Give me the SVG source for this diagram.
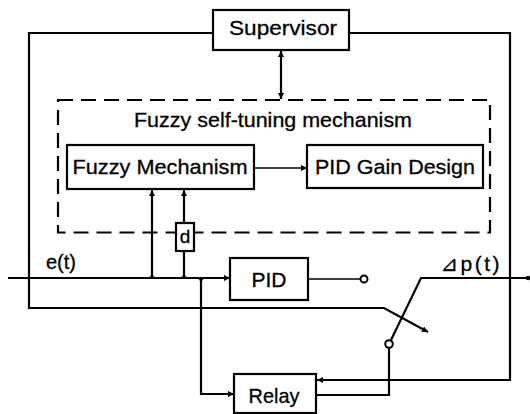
<svg xmlns="http://www.w3.org/2000/svg" width="530" height="414" viewBox="0 0 530 414">
<defs>
<style>
.box{fill:#fff;stroke:#000;stroke-width:2.2}
.ln{fill:none;stroke:#000;stroke-width:2.2}
.thin{fill:none;stroke:#000;stroke-width:1.7}
.dash{fill:none;stroke:#000;stroke-width:2.2;stroke-dasharray:15 8}
.t{font-family:"Liberation Sans",Arial,sans-serif;font-size:21px;fill:#000;text-anchor:middle;stroke:#000;stroke-width:0.3}
.sw{fill:#fff;stroke:#000;stroke-width:2}
.jn{fill:#000}
</style>
<marker id="ar" viewBox="0 0 10 10" refX="10" refY="5" markerWidth="7" markerHeight="6" markerUnits="userSpaceOnUse" orient="auto">
<path d="M0,0 L10,5 L0,10 z" fill="#000"/>
</marker>
<marker id="as" viewBox="0 0 10 10" refX="0" refY="5" markerWidth="7" markerHeight="6" markerUnits="userSpaceOnUse" orient="auto">
<path d="M10,0 L0,5 L10,10 z" fill="#000"/>
</marker>
</defs>
<rect width="530" height="414" fill="#fff"/>

<g id="connectors">
<path class="ln" d="M213,33 H29 V308 H384 L428,332" marker-end="url(#ar)"/>
<path class="ln" d="M349,33 H510 V380 H317" marker-end="url(#ar)"/>
<path class="ln" d="M281,51 V99" marker-start="url(#as)" marker-end="url(#ar)"/>
<path class="thin" d="M254,168 H307" marker-end="url(#ar)"/>
<path class="ln" d="M8,278 H230" marker-end="url(#ar)"/>
<path class="ln" d="M152,278 V190" marker-end="url(#ar)"/>
<path class="ln" d="M184,278 V251"/>
<path class="ln" d="M184,223 V190" marker-end="url(#ar)"/>
<path class="ln" d="M201,278 V394 H234" marker-end="url(#ar)"/>
<path class="thin" d="M308,279 H360"/>
<path class="ln" d="M530,278 H421 L391,340"/>
<path class="ln" d="M316,395 H389 V348"/>
<polygon class="jn" points="148.5,279 155.5,279 152,273.5"/>
<polygon class="jn" points="180.5,279 187.5,279 184,273.5"/>
<polygon class="jn" points="197.5,277 204.5,277 201,282.5"/>
<circle class="jn" cx="528" cy="278" r="2.2"/>
<circle class="sw" cx="364" cy="279" r="3.5"/>
<circle class="sw" cx="389" cy="344" r="3.8"/>
</g>

<g id="fuzzy-self-tuning">
<rect class="dash" x="58" y="100" width="432" height="132.5"/>
<text class="t" x="273" y="126.5" textLength="278" lengthAdjust="spacingAndGlyphs">Fuzzy self-tuning mechanism</text>
</g>

<g id="supervisor">
<rect class="box" x="213" y="10" width="136" height="40"/>
<text class="t" x="283" y="35" textLength="108" lengthAdjust="spacingAndGlyphs">Supervisor</text>
</g>

<g id="fuzzy-mechanism">
<rect class="box" x="67" y="145" width="187" height="44"/>
<text class="t" x="160" y="173.5" textLength="175" lengthAdjust="spacingAndGlyphs">Fuzzy Mechanism</text>
</g>

<g id="pid-gain-design">
<rect class="box" x="307" y="145" width="176" height="43"/>
<text class="t" x="395" y="173.5" textLength="160" lengthAdjust="spacingAndGlyphs">PID Gain Design</text>
</g>

<g id="d">
<rect class="box" x="176" y="223" width="18" height="28"/>
<text class="t" x="185" y="243" style="font-size:19px">d</text>
</g>

<g id="pid">
<rect class="box" x="230" y="258" width="78" height="42"/>
<text class="t" x="269" y="286.5">PID</text>
</g>

<g id="relay">
<rect class="box" x="234" y="374" width="82" height="39"/>
<text class="t" x="274" y="402.5" textLength="51" lengthAdjust="spacingAndGlyphs">Relay</text>
</g>

<g id="labels">
<text class="t" x="61" y="269" style="font-size:20px">e(t)</text>
<text class="t" x="470" y="271" style="font-size:21px;font-family:'Liberation Sans','DejaVu Sans','Noto Sans CJK JP',sans-serif" textLength="59" lengthAdjust="spacing">⊿p(t)</text>
</g>
</svg>
